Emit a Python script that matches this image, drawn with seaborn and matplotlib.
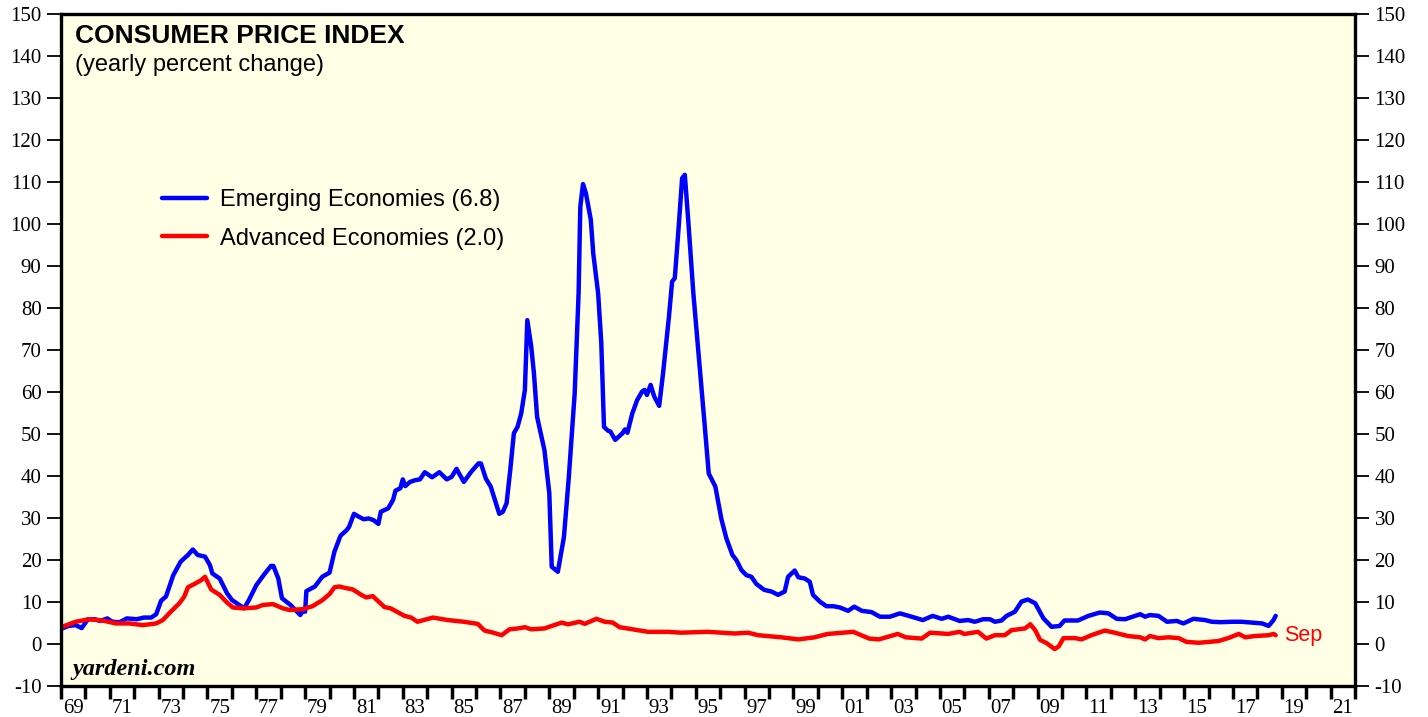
import numpy as np
import pandas as pd
import matplotlib
matplotlib.use("Agg")
import matplotlib.pyplot as plt
import seaborn as sns

# Emerging economies CPI, yearly % change
em_years = [1969.05, 1969.3, 1969.6, 1969.85, 1970.1, 1970.4, 1970.6, 1970.9, 1971.1, 1971.4,
            1971.7, 1972.1, 1972.4, 1972.7, 1972.9, 1973.1, 1973.3, 1973.6, 1973.9, 1974.2,
            1974.4, 1974.6, 1974.9, 1975.1, 1975.2, 1975.5, 1975.8, 1976.0, 1976.5, 1976.7,
            1977.0, 1977.3, 1977.6, 1977.7, 1977.9, 1978.05, 1978.4, 1978.8, 1978.9, 1979.0,
            1979.05, 1979.4, 1979.7, 1980.0, 1980.2, 1980.45, 1980.7, 1980.8, 1981.0, 1981.2,
            1981.4, 1981.6, 1981.8, 1982.0, 1982.1, 1982.4, 1982.6, 1982.7, 1982.9, 1983.0,
            1983.1, 1983.3, 1983.5, 1983.7, 1983.9, 1984.2, 1984.5, 1984.8, 1985.0, 1985.2,
            1985.5, 1985.8, 1986.1, 1986.2, 1986.4, 1986.6, 1986.95, 1987.1, 1987.25, 1987.4,
            1987.55, 1987.7, 1987.85, 1988.0, 1988.1, 1988.26, 1988.37, 1988.5, 1988.8, 1989.0,
            1989.1, 1989.35, 1989.6, 1989.8, 1990.04, 1990.2, 1990.27, 1990.38, 1990.5, 1990.7,
            1990.8, 1991.0, 1991.13, 1991.24, 1991.4, 1991.5, 1991.7, 1992.0, 1992.1, 1992.2,
            1992.4, 1992.6, 1992.8, 1992.9, 1993.0, 1993.15, 1993.3, 1993.5, 1993.66, 1993.9,
            1994.03, 1994.14, 1994.3, 1994.44, 1994.55, 1994.68, 1994.9, 1995.16, 1995.37, 1995.53,
            1995.8, 1996.05, 1996.25, 1996.5, 1996.66, 1996.87, 1997.07, 1997.28, 1997.48, 1997.8,
            1998.1, 1998.37, 1998.64, 1998.78, 1999.05, 1999.2, 1999.46, 1999.67, 1999.8, 2000.08,
            2000.35, 2000.63, 2000.9, 2001.24, 2001.49, 2001.8, 2002.2, 2002.54, 2002.95, 2003.36,
            2003.84, 2004.3, 2004.7, 2005.07, 2005.34, 2005.8, 2006.16, 2006.43, 2006.77, 2007.05,
            2007.25, 2007.52, 2007.73, 2008.07, 2008.34, 2008.6, 2008.9, 2009.24, 2009.57, 2009.9,
            2010.1, 2010.65, 2011.08, 2011.55, 2011.9, 2012.24, 2012.58, 2013.2, 2013.4, 2013.6,
            2013.95, 2014.3, 2014.7, 2014.97, 2015.38, 2015.86, 2016.13, 2016.5, 2016.95, 2017.36,
            2017.77, 2018.2, 2018.46, 2018.66, 2018.75]
em_values = [3.7, 4.3, 4.5, 3.8, 5.9, 5.9, 5.5, 6.1, 5.3, 5.2,
             6.1, 5.9, 6.3, 6.3, 7.1, 10.3, 11.3, 16.4, 19.6, 21.2,
             22.5, 21.2, 20.8, 18.8, 16.8, 15.6, 12.1, 10.5, 8.5, 10.5,
             14.0, 16.4, 18.6, 18.6, 15.6, 10.9, 9.3, 6.9, 7.9, 7.7,
             12.6, 13.7, 16.0, 17.0, 22.0, 25.8, 27.1, 27.9, 31.0, 30.3,
             29.7, 29.9, 29.5, 28.6, 31.5, 32.3, 34.3, 36.5, 37.1, 39.2,
             37.6, 38.6, 39.0, 39.2, 40.9, 39.7, 40.9, 39.2, 39.8, 41.7,
             38.6, 41.0, 43.0, 43.0, 39.4, 37.5, 31.0, 31.5, 33.5, 41.4,
             50.2, 51.7, 54.9, 60.5, 77.1, 70.8, 64.5, 54.1, 46.2, 35.9,
             18.4, 17.2, 25.5, 39.8, 59.7, 83.5, 104.1, 109.5, 107.3, 101.0,
             93.0, 83.5, 71.6, 51.7, 50.8, 50.6, 48.6, 50.2, 51.1, 50.3,
             54.9, 58.1, 60.1, 60.5, 59.3, 61.7, 58.9, 56.7, 64.5, 77.9,
             86.3, 87.1, 99.4, 110.9, 111.7, 101.7, 83.5, 66.0, 51.7, 40.6,
             37.5, 29.7, 25.2, 21.2, 20.0, 17.6, 16.4, 16.0, 14.3, 12.9,
             12.5, 11.7, 12.5, 16.0, 17.5, 15.9, 15.6, 14.8, 11.7, 10.1,
             9.0, 9.0, 8.7, 7.9, 8.9, 7.9, 7.6, 6.5, 6.5, 7.3,
             6.5, 5.7, 6.7, 6.0, 6.5, 5.5, 5.7, 5.3, 5.9, 5.9,
             5.3, 5.6, 6.7, 7.7, 10.1, 10.6, 9.7, 6.1, 4.1, 4.3,
             5.6, 5.6, 6.7, 7.5, 7.3, 6.0, 5.9, 7.1, 6.5, 6.9,
             6.7, 5.3, 5.5, 4.9, 6.0, 5.7, 5.3, 5.2, 5.3, 5.3,
             5.1, 4.9, 4.3, 5.7, 6.7]

# Advanced economies CPI, yearly % change
adv_years = [1969.05, 1969.6, 1970.16, 1970.7, 1971.25, 1971.8, 1972.35, 1972.9, 1973.17, 1973.5,
             1973.85, 1974.05, 1974.2, 1974.5, 1974.74, 1974.9, 1975.15, 1975.5, 1975.76, 1976.04,
             1976.45, 1977.0, 1977.27, 1977.68, 1978.09, 1978.36, 1978.9, 1979.3, 1979.72, 1980.0,
             1980.2, 1980.4, 1980.68, 1980.95, 1981.3, 1981.5, 1981.77, 1982.25, 1982.5, 1983.07,
             1983.34, 1983.6, 1984.23, 1984.85, 1985.5, 1986.07, 1986.35, 1986.7, 1987.05, 1987.37,
             1987.7, 1988.0, 1988.26, 1988.8, 1989.2, 1989.5, 1989.77, 1990.24, 1990.45, 1990.93,
             1991.27, 1991.6, 1991.88, 1992.2, 1993.05, 1993.86, 1994.4, 1995.5, 1996.6, 1997.14,
             1997.55, 1998.5, 1999.2, 1999.87, 2000.4, 2001.45, 2002.1, 2002.5, 2003.27, 2003.6,
             2004.25, 2004.6, 2005.34, 2005.8, 2006.0, 2006.56, 2006.9, 2007.25, 2007.66, 2007.93,
             2008.48, 2008.7, 2008.9, 2009.1, 2009.37, 2009.7, 2009.86, 2010.06, 2010.54, 2010.8,
             2011.2, 2011.75, 2012.15, 2012.7, 2013.2, 2013.4, 2013.6, 2013.95, 2014.36, 2014.78,
             2015.1, 2015.6, 2016.0, 2016.4, 2016.8, 2017.24, 2017.5, 2017.9, 2018.46, 2018.66,
             2018.75]
adv_values = [4.1, 5.3, 5.9, 5.6, 4.9, 4.9, 4.5, 4.9, 5.7, 7.7,
              9.7, 11.3, 13.5, 14.4, 15.2, 16.0, 13.0, 11.7, 10.1, 8.7,
              8.5, 8.7, 9.3, 9.5, 8.5, 8.1, 8.3, 9.0, 10.5, 11.9,
              13.5, 13.7, 13.3, 13.0, 11.7, 11.1, 11.4, 8.8, 8.5, 6.7,
              6.3, 5.3, 6.3, 5.7, 5.3, 4.8, 3.2, 2.7, 2.1, 3.5,
              3.7, 4.0, 3.5, 3.7, 4.5, 5.1, 4.7, 5.3, 4.8, 6.0,
              5.3, 5.1, 4.0, 3.7, 2.9, 2.9, 2.7, 2.9, 2.5, 2.7,
              2.1, 1.6, 1.1, 1.6, 2.4, 2.9, 1.3, 1.1, 2.4, 1.6,
              1.3, 2.7, 2.4, 2.9, 2.4, 2.9, 1.3, 2.1, 2.1, 3.3,
              3.7, 4.7, 3.3, 1.0, 0.2, -1.2, -0.6, 1.4, 1.4, 1.1,
              2.1, 3.2, 2.7, 1.9, 1.6, 1.1, 1.9, 1.4, 1.6, 1.4,
              0.5, 0.3, 0.5, 0.7, 1.4, 2.4, 1.6, 1.9, 2.1, 2.4,
              2.1]

em_label = "Emerging Economies (6.8)"
adv_label = "Advanced Economies (2.0)"
year_labels = [f"{y % 100:02d}" for y in range(1969, 2022, 2)]

sns.set_theme(style="ticks")
plt.rcParams["font.family"] = ["Liberation Serif", "DejaVu Serif"]
plt.rcParams["axes.unicode_minus"] = False

fig = plt.figure(figsize=(14.28, 7.17), dpi=100)
ax = fig.add_axes([0.0427, 0.0432, 0.9062, 0.9373])
ax.set_facecolor("#FFFFE5")

em = pd.DataFrame({"year": em_years, "cpi": em_values})
adv = pd.DataFrame({"year": adv_years, "cpi": adv_values})
sns.lineplot(data=em, x="year", y="cpi", color="#0000FF", linewidth=3.2, label=em_label, ax=ax)
sns.lineplot(data=adv, x="year", y="cpi", color="#FF0000", linewidth=3.2, label=adv_label, ax=ax)

ax.set_xlim(1969, 2022)
ax.set_ylim(-10, 150)
ax.set_xlabel("")
ax.set_ylabel("")

# y axis: ticks and labels on both sides
ax.set_yticks(np.arange(-10, 151, 10))
ax.tick_params(axis="y", which="both", left=True, right=True, labelleft=True, labelright=True,
               length=10, width=1.3, pad=4, labelsize=15, colors="black")

# x axis: year tick marks, labels centred between them
ax.set_xticks(np.arange(1969, 2022, 2) + 0.5)
ax.set_xticklabels(year_labels)
ax.set_xticks(np.arange(1969, 2023, 1), minor=True)
ax.tick_params(axis="x", which="major", length=0, pad=9, labelsize=15, colors="black")
ax.tick_params(axis="x", which="minor", length=9, width=2.5, color="black")

for s in ax.spines.values():
    s.set_color("black")
    s.set_linewidth(2.4)

sans = ["Liberation Sans", "DejaVu Sans"]
ax.text(0.0108, 0.985, "CONSUMER PRICE INDEX", transform=ax.transAxes, ha="left", va="top",
        fontsize=19, fontweight="bold", family=sans, color="black")
ax.text(0.0108, 0.940, "(yearly percent change)", transform=ax.transAxes, ha="left", va="top",
        fontsize=17, family=sans, color="black")
ax.text(0.0085, 0.016, "yardeni.com", transform=ax.transAxes, ha="left", va="baseline",
        fontsize=17.5, fontweight="bold", fontstyle="italic", color="black")
ax.annotate("Sep", xy=(adv_years[-1], adv_values[-1]), xytext=(6, 0), textcoords="offset points",
            ha="left", va="center", fontsize=15.5, family=sans, color="#FF0000")

leg = ax.legend(loc="upper left", bbox_to_anchor=(0.069, 0.757), frameon=False, borderpad=0,
                handlelength=1.9, handletextpad=0.55, labelspacing=0.7, labelcolor="black",
                prop={"family": sans, "size": 17})

fig.savefig("out.png", dpi=100, facecolor="white")
